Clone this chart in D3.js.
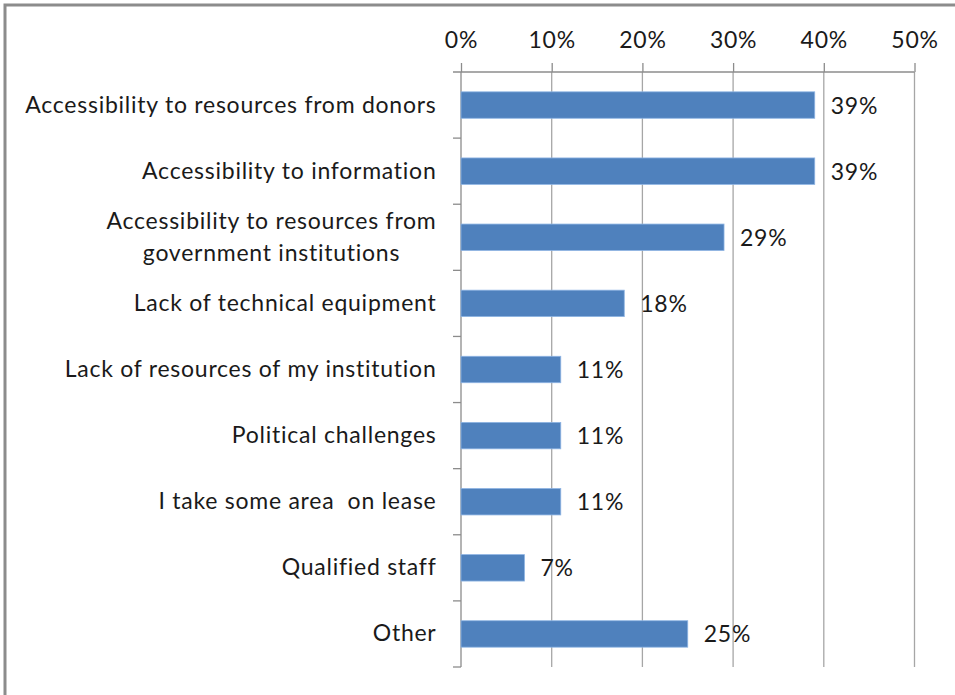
<!DOCTYPE html>
<html>
<head>
<meta charset="utf-8">
<script src="https://cdn.jsdelivr.net/npm/d3@7/dist/d3.min.js"></script>
<style>
  html, body { margin: 0; padding: 0; background: #fff; }
  svg { display: block; }
  text { font-family: Lato, "Open Sans", sans-serif; fill: #1a1a1a; white-space: pre; }
</style>
</head>
<body>
<svg id="chart" width="955" height="695"></svg>
<script>
// Survey responses: main obstacles (share of respondents)
const categories = [
  "Accessibility to resources from donors",
  "Accessibility to information",
  "Accessibility to resources from|government institutions",
  "Lack of technical equipment",
  "Lack of resources of my institution",
  "Political challenges",
  "I take some area  on lease",
  "Qualified staff",
  "Other"
];
const values = [39, 39, 29, 18, 11, 11, 11, 7, 25];
const tickValues = [0, 10, 20, 30, 40, 50];

const FONT_SIZE = "23px";
const LETTER_SPACING = "0.75px";

const svg = d3.select("#chart");
const W = 955, H = 695;
const plot = { left: 461, right: 914.5, top: 72, bottom: 667 };
const labelRight = 436.5;

// outer frame
svg.append("rect")
  .attr("x", 5).attr("y", 5)
  .attr("width", W).attr("height", H)
  .attr("fill", "none")
  .attr("stroke", "#8c8c8c")
  .attr("stroke-width", 3);

const x = d3.scaleLinear().domain([0, 50]).range([plot.left, plot.right]);
const y = d3.scaleBand().domain(categories).range([plot.top, plot.bottom])
  .paddingInner(0.6).paddingOuter(0.3);

// vertical gridlines
svg.append("g")
  .selectAll("line")
  .data(tickValues.slice(1))
  .join("line")
  .attr("x1", d => x(d)).attr("x2", d => x(d))
  .attr("y1", plot.top).attr("y2", plot.bottom)
  .attr("stroke", "#a6a6a6").attr("stroke-width", 1.3);

// top axis
const xAxis = d3.axisTop(x).tickValues(tickValues)
  .tickFormat(d => d + "%").tickSize(9).tickPadding(15);
const gx = svg.append("g").attr("transform", `translate(0,${plot.top})`).call(xAxis);
gx.select(".domain").attr("stroke", "#8c8c8c").attr("stroke-width", 1.3)
  .attr("d", `M${plot.left - 8},0H${plot.right}`);
gx.selectAll(".tick line").attr("stroke", "#8c8c8c").attr("stroke-width", 1.3);
gx.selectAll(".tick text")
  .style("font-family", "Lato, 'Open Sans', sans-serif")
  .style("font-size", FONT_SIZE).style("letter-spacing", LETTER_SPACING)
  .attr("fill", "#1a1a1a");

// left axis: line plus category-boundary ticks
const boundaries = d3.range(categories.length + 1)
  .map(i => plot.top + i * (plot.bottom - plot.top) / categories.length);
svg.append("line")
  .attr("x1", plot.left).attr("x2", plot.left)
  .attr("y1", plot.top).attr("y2", plot.bottom)
  .attr("stroke", "#8c8c8c").attr("stroke-width", 1.3);
svg.append("g").selectAll("line").data(boundaries.slice(1)).join("line")
  .attr("x1", plot.left - 8).attr("x2", plot.left)
  .attr("y1", d => d).attr("y2", d => d)
  .attr("stroke", "#8c8c8c").attr("stroke-width", 1.3);

// category labels (| marks a line break); multi-line labels are centred
// within their block, and the block is right-aligned against the axis
const labels = svg.append("g").selectAll("text").data(categories).join("text")
  .attr("y", d => y(d) + y.bandwidth() / 2)
  .style("font-size", FONT_SIZE).style("letter-spacing", LETTER_SPACING);
labels.each(function(d) {
  const parts = d.split("|");
  const t = d3.select(this);
  const lh = 32;
  const spans = parts.map((p, i) => t.append("tspan")
    .attr("dy", i === 0 ? (-(parts.length - 1) * lh / 2 + 7.5) : lh)
    .text(p));
  if (parts.length === 1) {
    t.attr("text-anchor", "end");
    spans[0].attr("x", labelRight);
  } else {
    const widths = spans.map(s => s.node().getComputedTextLength());
    const cx = labelRight - d3.max(widths) / 2;
    t.attr("text-anchor", "middle");
    spans.forEach(s => s.attr("x", cx));
  }
});

// bars
svg.append("g").selectAll("rect").data(values).join("rect")
  .attr("x", x(0))
  .attr("y", (d, i) => y(categories[i]))
  .attr("width", d => x(d) - x(0))
  .attr("height", y.bandwidth())
  .attr("fill", "#4f81bd")
  .attr("stroke", "#8eb4e3").attr("stroke-width", 0.8);

// value labels
svg.append("g").selectAll("text").data(values).join("text")
  .attr("x", d => x(d) + 16)
  .attr("y", (d, i) => y(categories[i]) + y.bandwidth() / 2 + 8.5)
  .style("font-size", FONT_SIZE).style("letter-spacing", LETTER_SPACING)
  .text(d => d + "%");
</script>
</body>
</html>
